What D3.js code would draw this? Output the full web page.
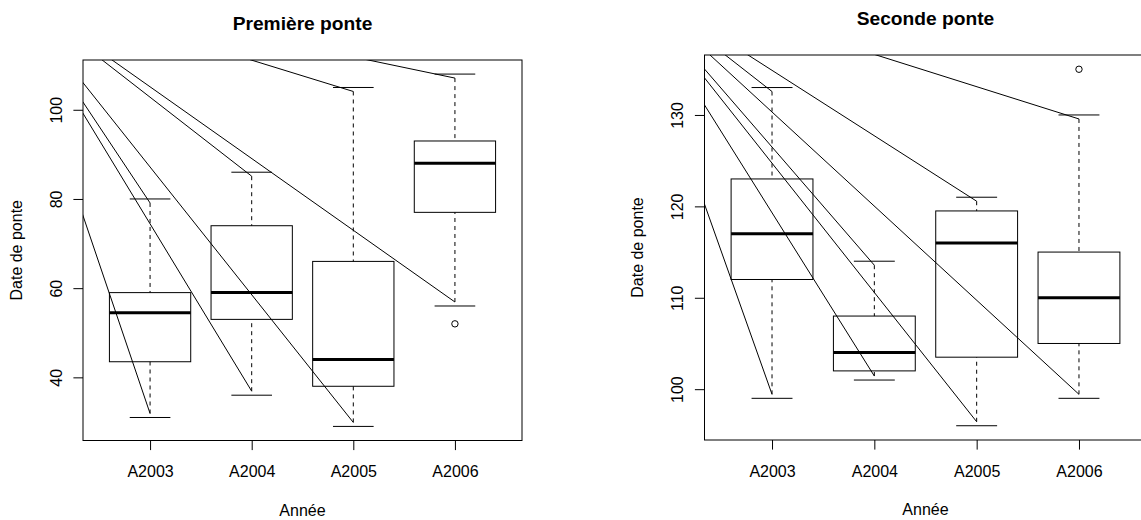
<!DOCTYPE html>
<html>
<head>
<meta charset="utf-8">
<script src="https://cdn.jsdelivr.net/npm/d3@7"></script>
<style>
  html, body { margin: 0; padding: 0; background: #ffffff; }
  svg { display: block; }
  text { font-family: "Liberation Sans", Arial, Helvetica, sans-serif; fill: #000; }
</style>
</head>
<body>
<script>
// ---------- data ----------
const categories = ["A2003", "A2004", "A2005", "A2006"];

// Première ponte
const firstLow    = [31, 36, 29, 56];
const firstQ1     = [43.5, 53, 38, 77];
const firstMedian = [54.5, 59, 44, 88];
const firstQ3     = [59, 74, 66, 93];
const firstHigh   = [80, 86, 105, 108];
const firstOutliers = [[], [], [], [52]];
const firstTicks  = [40, 60, 80, 100];
const firstStrayOrigin = [-0.433, 128.2];   // common start of the stray strokes

// Seconde ponte
const secondLow    = [99, 101, 96, 99];
const secondQ1     = [112, 102, 103.5, 105];
const secondMedian = [117, 104, 116, 110];
const secondQ3     = [123, 108, 119.5, 115];
const secondHigh   = [133, 114, 121, 130];
const secondOutliers = [[], [], [], [135]];
const secondTicks  = [100, 110, 120, 130];
const secondStrayOrigin = [-0.455, 145.3];

const titles = ["Première ponte", "Seconde ponte"];
const xLabel = "Année";
const yLabel = "Date de ponte";

// ---------- drawing ----------
const W = 1141, H = 520;
const FS = 16;
const svg = d3.select("body").append("svg")
  .attr("width", W).attr("height", H)
  .attr("viewBox", `0 0 ${W} ${H}`);
svg.append("rect").attr("width", W).attr("height", H).attr("fill", "#fff");

const panels = [
  { id: "p1", title: titles[0], low: firstLow, q1: firstQ1, med: firstMedian, q3: firstQ3, high: firstHigh,
    out: firstOutliers, ticks: firstTicks, origin: firstStrayOrigin,
    x0: 83, x1: 522, y0: 60, y1: 440.5 },
  { id: "p2", title: titles[1], low: secondLow, q1: secondQ1, med: secondMedian, q3: secondQ3, high: secondHigh,
    out: secondOutliers, ticks: secondTicks, origin: secondStrayOrigin,
    x0: 704.5, x1: 1146.5, y0: 55, y1: 440 }
];

panels.forEach(p => {
  const n = categories.length;
  const allVals = [].concat(p.low, p.high, ...p.out);
  const lo = d3.min(allVals), hi = d3.max(allVals);
  const pad = (hi - lo) * 0.04;
  const x = d3.scaleLinear().domain([0.5 - n * 0.04, n + 0.5 + n * 0.04]).range([p.x0, p.x1]);
  const y = d3.scaleLinear().domain([lo - pad, hi + pad]).range([p.y1, p.y0]);

  const g = svg.append("g");
  svg.append("clipPath").attr("id", "clip-" + p.id)
    .append("rect").attr("x", p.x0).attr("y", p.y0)
    .attr("width", p.x1 - p.x0).attr("height", p.y1 - p.y0);
  const plot = g.append("g").attr("clip-path", `url(#clip-${p.id})`);

  const idx = d3.range(n);

  // whiskers (dashed, drawn from the whisker value toward the box)
  plot.selectAll(".wl").data(idx).join("line")
    .attr("x1", i => x(i + 1)).attr("x2", i => x(i + 1))
    .attr("y1", i => y(p.low[i])).attr("y2", i => y(p.q1[i]))
    .attr("stroke", "#000").attr("stroke-width", 1)
    .attr("stroke-dasharray", "4,4").attr("stroke-dashoffset", 4);
  plot.selectAll(".wh").data(idx).join("line")
    .attr("x1", i => x(i + 1)).attr("x2", i => x(i + 1))
    .attr("y1", i => y(p.high[i])).attr("y2", i => y(p.q3[i]))
    .attr("stroke", "#000").attr("stroke-width", 1)
    .attr("stroke-dasharray", "4,4").attr("stroke-dashoffset", 4);

  // caps
  [p.low, p.high].forEach(arr => {
    plot.append("g").selectAll("line").data(idx).join("line")
      .attr("x1", i => x(i + 1 - 0.2)).attr("x2", i => x(i + 1 + 0.2))
      .attr("y1", i => y(arr[i])).attr("y2", i => y(arr[i]))
      .attr("stroke", "#000").attr("stroke-width", 1);
  });

  // boxes
  plot.append("g").selectAll("rect").data(idx).join("rect")
    .attr("x", i => x(i + 1 - 0.4)).attr("width", i => x(i + 1 + 0.4) - x(i + 1 - 0.4))
    .attr("y", i => y(p.q3[i])).attr("height", i => y(p.q1[i]) - y(p.q3[i]))
    .attr("fill", "none").attr("stroke", "#000").attr("stroke-width", 1);

  // medians
  plot.append("g").selectAll("line").data(idx).join("line")
    .attr("x1", i => x(i + 1 - 0.4)).attr("x2", i => x(i + 1 + 0.4))
    .attr("y1", i => y(p.med[i])).attr("y2", i => y(p.med[i]))
    .attr("stroke", "#000").attr("stroke-width", 3);

  // outliers
  const outPts = [];
  p.out.forEach((arr, i) => arr.forEach(v => outPts.push({ i, v })));
  plot.append("g").selectAll("circle").data(outPts).join("circle")
    .attr("cx", d => x(d.i + 1)).attr("cy", d => y(d.v)).attr("r", 3.2)
    .attr("fill", "none").attr("stroke", "#000").attr("stroke-width", 1);

  // stray strokes from a common origin to each whisker end
  const ends = [];
  idx.forEach(i => {
    ends.push({ i, v: p.low[i], dir: -1 });
    ends.push({ i, v: p.high[i], dir: 1 });
  });
  plot.append("g").selectAll("line").data(ends).join("line")
    .attr("x1", x(p.origin[0])).attr("y1", y(p.origin[1]))
    .attr("x2", d => x(d.i + 1)).attr("y2", d => y(d.v) + d.dir * 4)
    .attr("stroke", "#000").attr("stroke-width", 1);

  // frame
  g.append("rect").attr("x", p.x0).attr("y", p.y0)
    .attr("width", p.x1 - p.x0).attr("height", p.y1 - p.y0)
    .attr("fill", "none").attr("stroke", "#000").attr("stroke-width", 1);

  // y axis
  const ya = g.append("g").attr("transform", `translate(${p.x0},0)`)
    .call(d3.axisLeft(y).tickValues(p.ticks).tickSize(9.6).tickFormat(d3.format("d")));
  ya.select(".domain").remove();
  ya.selectAll("line").attr("stroke", "#000");
  ya.selectAll("text")
    .attr("x", 0).attr("y", -21.5).attr("dy", 0)
    .attr("text-anchor", "middle").attr("transform", "rotate(-90)")
    .style("font-size", FS + "px").style("font-family", "Liberation Sans, Arial, sans-serif");

  // x axis
  const xa = g.append("g").attr("transform", `translate(0,${p.y1})`)
    .call(d3.axisBottom(x).tickValues(idx.map(i => i + 1)).tickSize(9.6).tickFormat((d, k) => categories[k]));
  xa.select(".domain").remove();
  xa.selectAll("line").attr("stroke", "#000");
  xa.selectAll("text").attr("y", 36.5).attr("dy", 0)
    .style("font-size", FS + "px").style("font-family", "Liberation Sans, Arial, sans-serif");

  // labels
  const cx = (p.x0 + p.x1) / 2, cy = (p.y0 + p.y1) / 2;
  g.append("text").attr("x", cx).attr("y", p.y0 - 30.3).attr("text-anchor", "middle")
    .style("font-size", (FS * 1.2) + "px").style("font-weight", "bold").text(p.title);
  g.append("text").attr("x", cx).attr("y", p.y1 + 75).attr("text-anchor", "middle")
    .style("font-size", FS + "px").text(xLabel);
  g.append("text").attr("transform", `translate(${p.x0 - 61.5},${cy}) rotate(-90)`)
    .attr("text-anchor", "middle").style("font-size", FS + "px").text(yLabel);
});
</script>
</body>
</html>
